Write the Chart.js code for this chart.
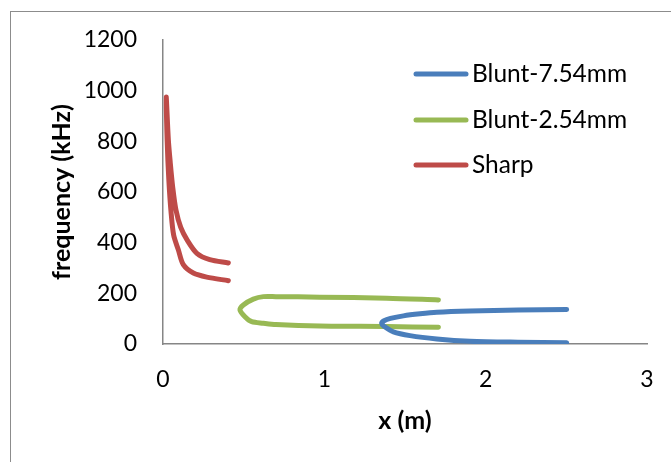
<!DOCTYPE html>
<html>
<head>
<meta charset="utf-8">
<script src="https://cdn.jsdelivr.net/npm/chart.js@4"></script>
<style>
  html, body { margin: 0; padding: 0; background: #fff; }
  #wrap { position: relative; width: 671px; height: 462px; }
</style>
</head>
<body>
<div id="wrap"><canvas id="c" width="671" height="462"></canvas></div>
<script>
// ---- data ----
const seriesNames = ['Blunt-7.54mm', 'Blunt-2.54mm', 'Sharp'];

const blunt754X = [2.502, 2.2, 1.903, 1.697, 1.593, 1.49, 1.41, 1.37, 1.355, 1.37, 1.428, 1.531, 1.697, 1.903, 2.2, 2.502];
const blunt754Y = [136, 134, 130, 125, 119, 111, 101, 92, 82, 70, 48, 33, 20, 11, 7, 5];

const blunt254X = [1.707, 1.387, 0.973, 0.70, 0.622, 0.56, 0.498, 0.477, 0.508, 0.55, 0.622, 0.70, 0.973, 1.387, 1.707];
const blunt254Y = [174, 181, 185, 187, 187, 177, 154, 135, 108, 88, 82, 77, 71, 69, 66];

const sharpX = [0.405, 0.29, 0.21, 0.15, 0.11, 0.08, 0.06, 0.045, 0.033, 0.02, 0.026, 0.036, 0.05, 0.066, 0.095, 0.126, 0.188, 0.271, 0.405];
const sharpY = [320, 333, 358, 410, 460, 530, 620, 716, 808, 975, 800, 650, 520, 430, 372, 313, 280, 264, 250];

const xTicks = [0, 1, 2, 3];
const yTicks = [0, 200, 400, 600, 800, 1000, 1200];

const colors = ['#4A7EBB', '#98B954', '#BE4B48'];

function pts(xs, ys) { return xs.map((x, i) => ({ x: x, y: ys[i] })); }

const FONT = 'Lato, "Open Sans", sans-serif';

const frame = {
  id: 'frame',
  beforeDraw(chart) {
    const ctx = chart.ctx;
    ctx.save();
    ctx.strokeStyle = '#8c8c8c';
    ctx.lineWidth = 1;
    ctx.strokeRect(10.5, 11.5, 1000, 1000);
    ctx.restore();
  }
};

const legendBox = {
  id: 'legendBox',
  afterDraw(chart) {
    const ctx = chart.ctx;
    const ys = [74, 120, 165];
    ctx.save();
    chart.data.datasets.forEach((ds, i) => {
      ctx.strokeStyle = ds.borderColor;
      ctx.lineWidth = 5;
      ctx.lineCap = 'round';
      ctx.beginPath();
      ctx.moveTo(416, ys[i]);
      ctx.lineTo(466, ys[i]);
      ctx.stroke();
      ctx.fillStyle = '#000';
      ctx.font = '24.5px ' + FONT;
      ctx.textAlign = 'left';
      ctx.textBaseline = 'middle';
      ctx.fillText(ds.label, 472, ys[i]);
    });
    ctx.restore();
  }
};

const mk = (i, xs, ys) => ({
  label: seriesNames[i],
  data: pts(xs, ys),
  showLine: true,
  borderColor: colors[i],
  backgroundColor: colors[i],
  borderWidth: 5,
  pointRadius: 0,
  pointHoverRadius: 0,
  tension: 0.3,
  borderCapStyle: 'round',
  borderJoinStyle: 'round',
  fill: false
});

new Chart(document.getElementById('c'), {
  type: 'scatter',
  data: {
    datasets: [
      mk(0, blunt754X, blunt754Y),
      mk(1, blunt254X, blunt254Y),
      mk(2, sharpX, sharpY)
    ]
  },
  options: {
    responsive: false,
    animation: false,
    events: [],
    layout: { padding: { left: 0, top: 40, right: 24, bottom: 0 } },
    plugins: { legend: { display: false }, tooltip: { enabled: false } },
    scales: {
      x: {
        type: 'linear', min: 0, max: 3,
        afterBuildTicks(s) { s.ticks = xTicks.map(v => ({ value: v })); },
        afterFit(s) { s.height = 118; },
        grid: { display: false, drawTicks: true, tickLength: 8, tickColor: '#868686' },
        border: { display: true, color: '#868686', width: 1.5 },
        ticks: { color: '#000', padding: 14, font: { family: FONT, size: 23 }, callback: v => String(v) },
        title: { display: true, text: 'x (m)', color: '#000', padding: { top: 0, bottom: 26 },
                 font: { family: FONT, size: 25, weight: 'bold' } }
      },
      y: {
        type: 'linear', min: 0, max: 1200,
        afterBuildTicks(s) { s.ticks = yTicks.map(v => ({ value: v })); },
        afterFit(s) { s.width = 163; },
        grid: { display: false, drawTicks: true, tickLength: 8, tickColor: '#868686' },
        border: { display: true, color: '#868686', width: 1.5 },
        ticks: { color: '#000', padding: 18, font: { family: FONT, size: 23 }, callback: v => String(v) },
        title: { display: true, text: 'frequency (kHz)', color: '#000', padding: { top: 47, bottom: 0 },
                 font: { family: FONT, size: 25, weight: 'bold' } }
      }
    }
  },
  plugins: [frame, legendBox]
});
</script>
</body>
</html>
